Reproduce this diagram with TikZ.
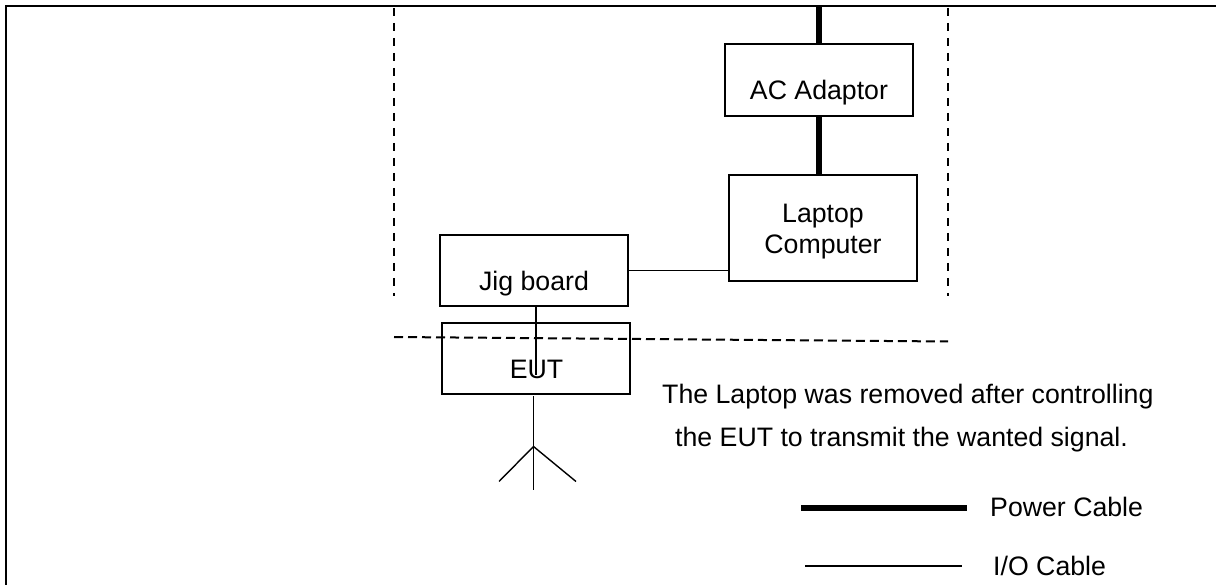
\documentclass[tikz,border=0pt]{standalone}
\usepackage{fontspec}
\setmainfont{Liberation Sans}
\usepackage{tikz}
\usetikzlibrary{positioning}

\begin{document}
\begin{tikzpicture}[x=1pt,y=-1pt]
	\tikzstyle{box} = [draw = black, line width = 1.5pt, minimum width = 188pt, inner sep = 0pt]
	\tikzstyle{txt} = [font = \fontsize{26.7}{26.7}\selectfont, inner sep = 0pt]
	\tikzstyle{power} = [line width = 6pt]
	\tikzstyle{io} = [line width = 1.4pt]
	\tikzstyle{room} = [line width = 2pt, dash pattern = on 8pt off 7pt]
\useasboundingbox (0, 0) rectangle (1216, 585);
\draw[line width = 2.5pt] (6, 585) -- (6, 6) -- (1216, 6);
\node[box, minimum height = 72pt] (ac) at (819, 80) {};
\node[box, minimum height = 106pt] (laptop) at (823, 228) {};
\node[box, minimum height = 71pt] (jig) at (534, 270.5) {};
\node[box, minimum height = 71pt] (eut) at (536, 358.5) {};
	\node[txt] (actext) at (819, 93) {AC Adaptor};
	\node[txt, align = center] (laptoptext) at (823, 231.5) {Laptop\\[5pt]Computer};
	\node[txt] (jigtext) at (534, 284) {Jig board};
	\node[txt] (euttext) at (536.5, 369) {EUT};
	\node[txt, anchor = west] (note1) at (662, 397) {The Laptop was removed after controlling};
	\node[txt, anchor = west] (note2) at (675, 440) {the EUT to transmit the wanted signal.};
	\node[txt, anchor = west] (powertext) at (990, 507) {Power Cable};
	\node[txt, anchor = west] (iotext) at (993, 566) {I/O Cable};
\coordinate (mains) at (819, 6);
\coordinate (jigend) at (536, 375);
\coordinate (ant0) at (533.5, 396);
\coordinate (ant1) at (533.5, 446.5);
\coordinate (ant2) at (533.5, 490);
\coordinate (ant3) at (499, 481.5);
\coordinate (ant4) at (576, 481.5);
\coordinate (p0) at (801, 507.5);
\coordinate (p1) at (967, 507.5);
\coordinate (i0) at (805, 566);
\coordinate (i1) at (962, 566);
\coordinate (l0) at (394, 8);
\coordinate (l1) at (394, 296);
\coordinate (r0) at (948, 8);
\coordinate (r1) at (948, 296);
\coordinate (h0) at (394, 337);
\coordinate (h1) at (948, 341.5);
	\path[draw, power] (mains) -- (ac.north);
	\path[draw, power] (ac.south) -- (ac.south |- laptop.north);
	\path[draw, io] (jig.east) -- (jig.east -| laptop.west);
	\path[draw, io] (jig.south -| jigend) -- (jigend);
	\path[draw, io] (ant0) -- (ant2);
	\path[draw, io] (ant1) -- (ant3);
	\path[draw, io] (ant1) -- (ant4);
	\path[draw, room] (l0) -- (l1);
	\path[draw, room] (r0) -- (r1);
	\path[draw, room, dash pattern = on 9pt off 5pt] (h0) -- (h1);
	\path[draw, power] (p0) -- (p1);
	\path[draw, io] (i0) -- (i1);
\end{tikzpicture}
\end{document}
